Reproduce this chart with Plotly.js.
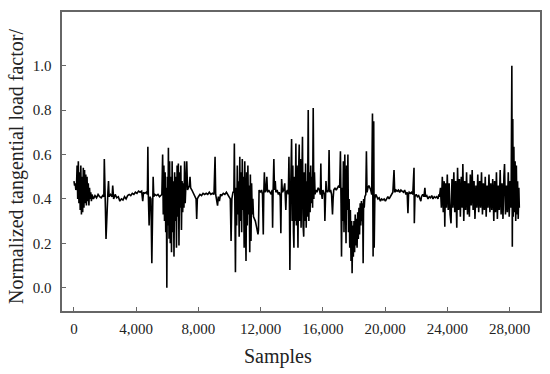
<!DOCTYPE html>
<html>
<head>
<meta charset="utf-8">
<script src="https://cdn.plot.ly/plotly-3.0.1.min.js"></script>
<style>html,body{margin:0;padding:0;background:#fff;}#chart{width:550px;height:374px;}</style>
</head>
<body>
<div id="chart"></div>
<script>
// [sample, normalized tangential load factor], region by region
const regionStart = [[0,0.48],[40,0.46],[80,0.47],[120,0.44],[160,0.45],[200,0.55],[240,0.40],[280,0.57],[320,0.38],[360,0.52],[400,0.35],[440,0.55],[480,0.33],[520,0.50],[560,0.34],[600,0.54],[640,0.36],[680,0.53],[720,0.38],[760,0.51],[800,0.37],[840,0.50],[880,0.39],[920,0.47],[960,0.37],[1000,0.45],[1040,0.40],[1080,0.43],[1120,0.39],[1160,0.42]];
const regionQuiet1 = [[1250,0.40],[1350,0.415],[1450,0.405],[1550,0.42],[1650,0.41],[1750,0.405],[1850,0.415],[1920,0.41],[1950,0.58],[1980,0.40],[2020,0.36],[2060,0.22],[2100,0.33],[2140,0.38],[2180,0.43],[2220,0.48],[2260,0.41],[2350,0.42],[2450,0.41],[2490,0.46],[2550,0.40],[2650,0.42],[2750,0.405],[2850,0.41],[2950,0.39],[3050,0.40],[3150,0.395],[3250,0.41],[3350,0.40],[3450,0.415],[3550,0.42],[3650,0.415],[3750,0.425],[3850,0.42],[3950,0.43],[4050,0.425],[4150,0.435],[4250,0.43],[4350,0.435],[4420,0.39],[4470,0.43],[4550,0.425],[4650,0.43],[4720,0.42],[4750,0.635],[4780,0.42],[4830,0.28],[4880,0.41],[4950,0.40],[5005,0.11],[5040,0.40],[5090,0.50],[5130,0.41],[5200,0.42],[5300,0.415],[5400,0.42],[5500,0.41],[5600,0.42]];
const regionB = [[5650,0.42],[5700,0.60],[5740,0.33],[5780,0.55],[5820,0.30],[5860,0.52],[5900,0.25],[5940,0.45],[5970,0.00],[6000,0.50],[6040,0.28],[6070,0.63],[6110,0.22],[6150,0.57],[6190,0.20],[6230,0.50],[6270,0.16],[6310,0.57],[6350,0.25],[6390,0.48],[6430,0.14],[6470,0.52],[6510,0.30],[6550,0.50],[6590,0.18],[6630,0.55],[6670,0.32],[6710,0.56],[6750,0.19],[6790,0.52],[6830,0.36],[6870,0.55],[6910,0.26],[6950,0.48],[6990,0.34],[7030,0.47],[7070,0.36],[7110,0.57],[7150,0.38],[7200,0.47],[7250,0.57],[7300,0.44]];
const regionQuiet2 = [[7350,0.45],[7420,0.46],[7460,0.50],[7500,0.45],[7580,0.44],[7650,0.43],[7720,0.42],[7780,0.41],[7850,0.40],[7890,0.31],[7930,0.40],[8000,0.41],[8100,0.42],[8200,0.415],[8300,0.425],[8400,0.42],[8500,0.425],[8600,0.42],[8700,0.43],[8800,0.42],[8900,0.425],[9000,0.42],[9070,0.59],[9110,0.42],[9230,0.37],[9280,0.41],[9350,0.39],[9420,0.42],[9500,0.415],[9600,0.425],[9700,0.42],[9800,0.43],[9900,0.42],[9980,0.41],[10050,0.40],[10100,0.21],[10150,0.40],[10220,0.43]];
const regionC = [[10280,0.43],[10310,0.65],[10340,0.30],[10380,0.07],[10420,0.45],[10460,0.28],[10500,0.55],[10540,0.33],[10580,0.48],[10620,0.23],[10660,0.59],[10700,0.30],[10740,0.52],[10780,0.25],[10820,0.58],[10860,0.35],[10900,0.50],[10940,0.18],[10980,0.57],[11020,0.30],[11060,0.12],[11100,0.52],[11140,0.28],[11180,0.55],[11220,0.33],[11260,0.46],[11300,0.16],[11340,0.51],[11380,0.21],[11420,0.47],[11460,0.33],[11500,0.40],[11540,0.32],[11600,0.31],[11660,0.30],[11720,0.28],[11780,0.25],[11830,0.24],[11860,0.26]];
const regionQuiet3 = [[11900,0.44],[11980,0.43],[12060,0.44],[12120,0.42],[12170,0.24],[12200,0.42],[12240,0.52],[12280,0.43],[12340,0.44],[12400,0.50],[12440,0.43],[12520,0.44],[12600,0.43],[12680,0.42],[12740,0.44],[12770,0.27],[12800,0.43],[12850,0.58],[12890,0.44],[12940,0.48],[12980,0.43],[13060,0.44],[13140,0.42],[13200,0.43],[13260,0.41],[13300,0.245],[13330,0.42],[13350,0.49],[13400,0.43],[13480,0.44],[13550,0.47],[13580,0.42],[13620,0.35],[13660,0.43],[13720,0.44],[13780,0.42],[13820,0.59],[13850,0.40]];
const regionD = [[13880,0.08],[13920,0.40],[13960,0.50],[13990,0.67],[14030,0.30],[14070,0.55],[14110,0.25],[14140,0.18],[14180,0.50],[14220,0.30],[14265,0.65],[14300,0.28],[14340,0.55],[14370,0.20],[14400,0.18],[14440,0.52],[14480,0.645],[14520,0.30],[14560,0.58],[14600,0.27],[14640,0.50],[14690,0.68],[14730,0.28],[14770,0.23],[14810,0.52],[14850,0.30],[14890,0.56],[14930,0.27],[14970,0.48],[15010,0.32],[15060,0.80],[15100,0.30],[15140,0.52],[15180,0.34],[15220,0.55],[15260,0.38],[15300,0.50],[15340,0.36],[15380,0.81],[15420,0.40],[15460,0.52],[15500,0.42]];
const regionQuiet4 = [[15550,0.44],[15620,0.43],[15700,0.45],[15780,0.44],[15840,0.42],[15870,0.56],[15900,0.43],[15960,0.40],[16000,0.44],[16060,0.43],[16100,0.42],[16130,0.30],[16160,0.43],[16200,0.48],[16240,0.44],[16300,0.43],[16360,0.44],[16400,0.62],[16440,0.43],[16500,0.44],[16560,0.42],[16620,0.33],[16660,0.40],[16700,0.44],[16780,0.45],[16860,0.44],[16940,0.45],[17020,0.46],[17080,0.45]];
const regionE = [[17130,0.615],[17170,0.38],[17200,0.14],[17240,0.45],[17280,0.30],[17320,0.57],[17360,0.25],[17410,0.60],[17450,0.30],[17490,0.20],[17530,0.55],[17570,0.35],[17610,0.60],[17650,0.25],[17690,0.40],[17730,0.18],[17770,0.35],[17810,0.12],[17850,0.30],[17880,0.065],[17920,0.28],[17960,0.14],[18000,0.30],[18040,0.16],[18080,0.33],[18120,0.19],[18160,0.31],[18200,0.18],[18240,0.34],[18280,0.22],[18320,0.36],[18360,0.24],[18400,0.38],[18440,0.28],[18480,0.39],[18520,0.30],[18560,0.38],[18590,0.11],[18620,0.40],[18660,0.36],[18700,0.41],[18760,0.42],[18800,0.615],[18840,0.43],[18900,0.45],[18960,0.46],[19020,0.45],[19080,0.44],[19140,0.42],[19190,0.785],[19230,0.14],[19270,0.75],[19300,0.18],[19340,0.40],[19400,0.42]];
const regionQuiet5 = [[19460,0.41],[19540,0.40],[19620,0.405],[19700,0.39],[19780,0.40],[19860,0.395],[19940,0.40],[20020,0.39],[20100,0.40],[20180,0.41],[20260,0.40],[20340,0.41],[20420,0.42],[20500,0.43],[20575,0.53],[20620,0.43],[20700,0.44],[20780,0.435],[20860,0.44],[20940,0.43],[21020,0.44],[21100,0.435],[21180,0.43],[21260,0.44],[21340,0.42],[21420,0.43],[21470,0.335],[21510,0.42],[21550,0.43],[21630,0.425],[21700,0.43],[21780,0.42],[21860,0.54],[21880,0.29],[21920,0.41],[22000,0.42],[22080,0.41],[22160,0.415],[22240,0.40],[22300,0.39],[22340,0.41],[22420,0.42],[22500,0.41],[22560,0.45],[22600,0.41],[22680,0.415],[22760,0.40],[22840,0.41],[22920,0.405],[23000,0.415],[23080,0.40],[23160,0.41],[23240,0.405],[23320,0.41],[23400,0.40],[23460,0.42]];
const regionF = [[23500,0.41],[23560,0.45],[23620,0.36],[23680,0.50],[23740,0.34],[23800,0.48],[23840,0.275],[23880,0.47],[23940,0.36],[24000,0.51],[24060,0.35],[24120,0.47],[24180,0.33],[24240,0.29],[24300,0.49],[24360,0.36],[24420,0.52],[24480,0.34],[24540,0.48],[24610,0.27],[24660,0.54],[24720,0.35],[24780,0.49],[24840,0.32],[24900,0.50],[24960,0.36],[25000,0.557],[25060,0.30],[25120,0.48],[25180,0.35],[25240,0.52],[25300,0.33],[25360,0.47],[25420,0.32],[25480,0.51],[25540,0.37],[25600,0.53],[25660,0.35],[25720,0.48],[25780,0.31],[25840,0.46],[25900,0.36],[25960,0.51],[26020,0.34],[26080,0.48],[26140,0.36],[26200,0.52],[26260,0.33],[26320,0.47],[26380,0.35],[26440,0.50],[26500,0.32],[26560,0.46],[26620,0.36],[26680,0.51],[26740,0.34],[26800,0.47],[26860,0.35],[26920,0.49],[26990,0.30],[27040,0.48],[27100,0.34],[27160,0.52],[27220,0.31],[27280,0.46],[27340,0.35],[27400,0.53],[27460,0.33],[27520,0.47],[27580,0.31],[27640,0.50],[27680,0.557],[27740,0.33],[27800,0.46],[27860,0.34],[27920,0.52],[27980,0.32],[28040,0.48],[28100,0.36],[28150,1.0],[28180,0.185],[28210,0.76],[28240,0.32],[28280,0.635],[28320,0.34],[28360,0.57],[28400,0.30],[28440,0.55],[28480,0.33],[28520,0.48],[28560,0.31],[28600,0.45],[28630,0.36]];

const xTickVals = [0, 4000, 8000, 12000, 16000, 20000, 24000, 28000];
const yTickVals = [0.0, 0.2, 0.4, 0.6, 0.8, 1.0];
const xTitle = 'Samples';
const yTitle = 'Normalized tangential load factor/';

const allPoints = [].concat(regionStart, regionQuiet1, regionB, regionQuiet2, regionC, regionQuiet3, regionD, regionQuiet4, regionE, regionQuiet5, regionF);
const samples = allPoints.map(p => p[0]);
const load = allPoints.map(p => p[1]);

const font = {family: 'Liberation Serif, Times New Roman, serif', color: '#222'};
const axisCommon = {
  showgrid: false, zeroline: false, showline: true, mirror: true,
  linecolor: '#666', linewidth: 1.6,
  ticks: 'inside', ticklen: 4, tickwidth: 1, tickcolor: '#666',
  tickfont: Object.assign({size: 15}, font)
};

Plotly.newPlot('chart', [{
  x: samples, y: load, type: 'scatter', mode: 'lines',
  line: {color: '#000', width: 1.6}, hoverinfo: 'skip'
}], {
  width: 550, height: 374,
  margin: {l: 62, r: 10, t: 12, b: 63},
  paper_bgcolor: '#fff', plot_bgcolor: '#fff',
  showlegend: false,
  xaxis: Object.assign({}, axisCommon, {range: [-770, 29960], tickvals: xTickVals, tickformat: ',d', ticklabelstandoff: 3}),
  yaxis: Object.assign({}, axisCommon, {range: [-0.105, 1.242], tickvals: yTickVals, tickformat: '.1f', ticklabelstandoff: 6}),
  annotations: [
    {text: xTitle, xref: 'paper', yref: 'paper', x: 0.452, y: 0, yshift: -45, xanchor: 'center', yanchor: 'middle', showarrow: false, font: Object.assign({size: 20}, font)},
    {text: yTitle, xref: 'paper', yref: 'paper', x: 0, xshift: -45, y: 0.482, xanchor: 'center', yanchor: 'middle', textangle: -90, showarrow: false, font: Object.assign({size: 20}, font)}
  ]
}, {staticPlot: true, displayModeBar: false});
</script>
</body>
</html>
